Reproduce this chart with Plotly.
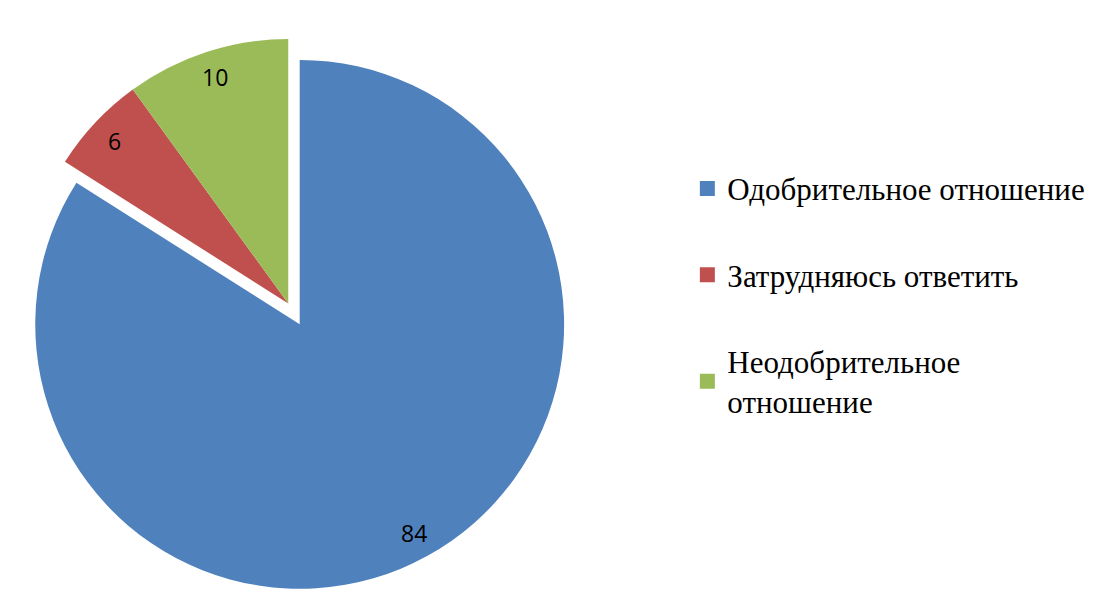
import math
import plotly.graph_objects as go

categories = ["Одобрительное отношение", "Затрудняюсь ответить", "Неодобрительное<br>отношение"]
values = [84, 6, 10]
colors = ["#4F81BD", "#C0504D", "#9BBB59"]
pulls = [0.09, 0, 0]

W, H = 1098, 610
dom_x = [0, 0.525]
dom_y = [0.03, 0.975]

fig = go.Figure()
fig.add_trace(go.Pie(
    labels=categories,
    values=values,
    sort=False,
    direction="clockwise",
    rotation=0,
    pull=pulls,
    marker=dict(colors=colors, line=dict(width=0)),
    textinfo="none",
    showlegend=False,
    domain=dict(x=dom_x, y=dom_y),
    hoverinfo="label+value",
))

# value labels placed near the outer edge of each slice, derived from the data
box_w = (dom_x[1] - dom_x[0]) * W
box_h = (dom_y[1] - dom_y[0]) * H
r = min(box_w, box_h) / (2 + 2 * max(pulls))
cx = (dom_x[0] + dom_x[1]) / 2 * W
cy = (1 - (dom_y[0] + dom_y[1]) / 2) * H
total = sum(values)
cum = 0
for v, p in zip(values, pulls):
    mid = (cum + v / 2) / total * 2 * math.pi
    cum += v
    dx, dy = math.sin(mid), -math.cos(mid)
    px_ = cx + dx * (p * r + 0.9 * r)
    py_ = cy + dy * (p * r + 0.9 * r)
    fig.add_annotation(
        x=px_ / W, y=1 - py_ / H, xref="paper", yref="paper",
        xanchor="center", yanchor="middle",
        text=str(v), showarrow=False,
        font=dict(family="Open Sans", size=23, color="black"),
    )

for lab, col in zip(categories, colors):
    fig.add_trace(go.Scatter(
        x=[None], y=[None], mode="markers", name=lab,
        marker=dict(symbol="square", size=15, color=col),
        legendgroup=lab, showlegend=True,
    ))

fig.update_layout(
    width=W, height=H,
    margin=dict(l=0, r=0, t=0, b=0),
    paper_bgcolor="white", plot_bgcolor="white",
    font=dict(family="Liberation Serif", size=31, color="black"),
    xaxis=dict(visible=False), yaxis=dict(visible=False),
    legend=dict(
        x=0.626, y=0.516, xanchor="left", yanchor="middle",
        font=dict(family="Liberation Serif", size=31, color="black"),
        tracegroupgap=43,
        bgcolor="rgba(0,0,0,0)",
    ),
)

fig.write_html("out.html", config={"displayModeBar": False},
               post_script="document.body.style.margin='0';")
